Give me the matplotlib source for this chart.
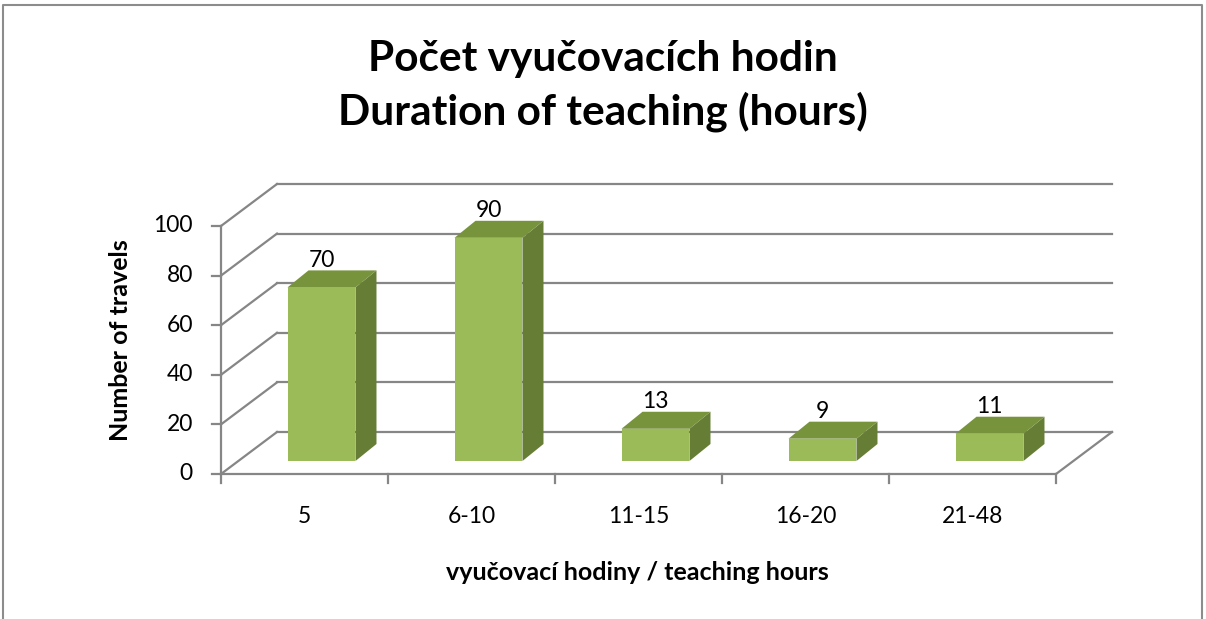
import numpy as np
import matplotlib.pyplot as plt
from matplotlib.patches import Polygon

# Datos del gráfico
categorias = ['5', '6-10', '11-15', '16-20', '21-48']
valores = [70, 90, 13, 9, 11]
ticks_y = [0, 20, 40, 60, 80, 100]

titulo = 'Počet vyučovacích hodin\nDuration of teaching (hours)'
etiqueta_x = 'vyučovací hodiny / teaching hours'
etiqueta_y = 'Number of travels'

plt.rcParams['font.family'] = ['Lato', 'DejaVu Sans']

# Colores estilo Excel
c_frente = '#9BBB59'
c_arriba = '#77933C'
c_lado = '#667D36'
c_grid = '#868686'

# Escala: 167 px por categoria, 2.48 px por unidad
W, H = 1206, 619
x0, cw = 221, 167
y0, py = 474, 2.48

fig = plt.figure(figsize=(W / 100, H / 100), dpi=100)
ax = fig.add_axes([0, 0, 1, 1])
ax.set_xlim(-x0 / cw, (W - x0) / cw)
ax.set_ylim((y0 - H) / py, y0 / py)
ax.axis('off')

n = len(categorias)
# profundidad de la pared y de las barras (en unidades de datos)
wdx, wdy = 56 / cw, 42 / py
bdx, bdy = 21 / cw, 17 / py
odx, ody = 17 / cw, 13 / py
ancho = 0.407

# pared del fondo y pared izquierda
for v in ticks_y:
    ax.plot([wdx, n + wdx], [v + wdy, v + wdy], color=c_grid, lw=1.6, zorder=1)
    ax.plot([0, wdx], [v, v + wdy], color=c_grid, lw=1.6, zorder=1)
    ax.plot([-0.054, 0], [v, v], color=c_grid, lw=1.6, zorder=1)
    ax.text(-0.168, v, str(v), ha='right', va='center', fontsize=16.5)

# piso y ejes
ax.plot([0, n], [0, 0], color=c_grid, lw=1.6, zorder=1)
ax.plot([n, n + wdx], [0, wdy], color=c_grid, lw=1.6, zorder=1)
ax.plot([0, 0], [0, ticks_y[-1]], color=c_grid, lw=1.6, zorder=1)
for i in range(n + 1):
    ax.plot([i, i], [0, -3.6], color=c_grid, lw=1.6, zorder=1)

# barras 3D
for i, (cat, v) in enumerate(zip(categorias, valores)):
    xl = i + 0.5 - ancho / 2 + odx
    xr = xl + ancho
    yb = ody
    yt = v + ody
    frente = [(xl, yb), (xr, yb), (xr, yt), (xl, yt)]
    arriba = [(xl, yt), (xr, yt), (xr + bdx, yt + bdy), (xl + bdx, yt + bdy)]
    lado = [(xr, yb), (xr + bdx, yb + bdy), (xr + bdx, yt + bdy), (xr, yt)]
    ax.add_patch(Polygon(lado, closed=True, fc=c_lado, ec='none', zorder=3))
    ax.add_patch(Polygon(arriba, closed=True, fc=c_arriba, ec='none', zorder=3))
    ax.add_patch(Polygon(frente, closed=True, fc=c_frente, ec='none', zorder=3))
    ax.text((xl + xr) / 2, yt + bdy - 0.2, str(v), ha='center', va='bottom',
            fontsize=16.5, zorder=4)
    ax.text(i + 0.5, -17.3, cat, ha='center', va='center', fontsize=16.5)

# titulos
fig.text(603 / W, 1 - 86 / H, titulo, ha='center', va='center', fontsize=30.5,
         fontweight='bold', linespacing=1.42)
fig.text(120 / W, 1 - 340 / H, etiqueta_y, ha='center', va='center',
         rotation=90, fontsize=18, fontweight='bold')
fig.text(637 / W, 1 - 572 / H, etiqueta_x, ha='center', va='center',
         fontsize=18, fontweight='bold')

# marco
ax.plot([3 / W, 3 / W, 1202 / W, 1202 / W], [0, 1 - 5 / H, 1 - 5 / H, 0],
        transform=ax.transAxes, color='#8C8C8C', lw=1.5, clip_on=False)

fig.savefig('out.png', dpi=100)
